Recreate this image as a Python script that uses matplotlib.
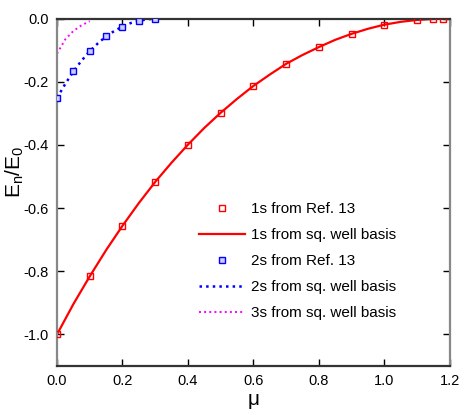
import matplotlib.pyplot as plt
import matplotlib

matplotlib.rcParams['font.family'] = ['Liberation Sans Narrow', 'Liberation Sans', 'DejaVu Sans']

# 1s, Ref. 13
mu_1s_ref = [0.0, 0.1, 0.2, 0.3, 0.4, 0.5, 0.6, 0.7, 0.8, 0.9, 1.0, 1.1, 1.15, 1.18]
e_1s_ref = [-1.0, -0.816, -0.656, -0.517, -0.399, -0.298, -0.213, -0.143, -0.09,
            -0.048, -0.019, -0.004, -0.001, 0.0]

# 1s, square well basis
mu_1s = [0.0, 0.05, 0.1, 0.15, 0.2, 0.25, 0.3, 0.35, 0.4, 0.45, 0.5, 0.55, 0.6,
         0.65, 0.7, 0.75, 0.8, 0.85, 0.9, 0.95, 1.0, 1.05, 1.1, 1.15, 1.18]
e_1s = [-1.0, -0.904, -0.816, -0.733, -0.656, -0.584, -0.517, -0.456, -0.399,
        -0.346, -0.298, -0.254, -0.213, -0.177, -0.143, -0.115, -0.09, -0.067,
        -0.048, -0.032, -0.019, -0.010, -0.004, -0.001, 0.0]

# 2s, Ref. 13
mu_2s_ref = [0.0, 0.05, 0.1, 0.15, 0.2, 0.25, 0.3]
e_2s_ref = [-0.251, -0.167, -0.103, -0.056, -0.025, -0.007, 0.0]

# 2s, square well basis
mu_2s = [0.0, 0.025, 0.05, 0.075, 0.1, 0.125, 0.15, 0.175, 0.2, 0.225, 0.25, 0.275, 0.3]
e_2s = [-0.251, -0.207, -0.167, -0.133, -0.103, -0.078, -0.056, -0.039, -0.025,
        -0.014, -0.007, -0.002, 0.0]

# 3s, square well basis
mu_3s = [0.0, 0.025, 0.05, 0.075, 0.1]
e_3s = [-0.111, -0.066, -0.039, -0.021, -0.008]

fig = plt.figure(figsize=(4.71, 4.15), dpi=100)
ax = fig.add_axes([0.121, 0.118, 0.834, 0.837])

ax.plot(mu_1s_ref, e_1s_ref, 's', ms=4.5, mec='red', mfc='none', mew=1.0,
        label='1s from Ref. 13', zorder=3)
ax.plot(mu_1s, e_1s, '-', color='red', lw=1.6, label='1s from sq. well basis')
ax.plot(mu_2s_ref, e_2s_ref, 's', ms=4.5, mec='blue', mfc='#ccccff', mew=1.0,
        label='2s from Ref. 13', zorder=3)
ax.plot(mu_2s, e_2s, ':', color='blue', lw=1.8, label='2s from sq. well basis')
ax.plot(mu_3s, e_3s, ':', color='magenta', lw=1.4, label='3s from sq. well basis')

ax.set_xlim(0, 1.2)
ax.set_ylim(-1.1, 0)
ax.set_xticks([0.0, 0.2, 0.4, 0.6, 0.8, 1.0, 1.2])
ax.set_yticks([-1.0, -0.8, -0.6, -0.4, -0.2, 0.0])
ax.xaxis.set_major_formatter(matplotlib.ticker.FormatStrFormatter('%.1f'))
ax.yaxis.set_major_formatter(matplotlib.ticker.FormatStrFormatter('%.1f'))
ax.tick_params(direction='in', top=True, right=True, length=5, width=1,
               labelsize=10.5, pad=6)

for side in ['left', 'right']:
    ax.spines[side].set_color('#888888')
    ax.spines[side].set_linewidth(1.6)
for side in ['top', 'bottom']:
    ax.spines[side].set_color('#333333')
    ax.spines[side].set_linewidth(1.6)

ax.set_xlabel('μ', fontsize=15)
ax.set_ylabel('E$_\\mathregular{n}$/E$_\\mathregular{0}$', fontsize=15)
ax.yaxis.set_label_coords(-0.08, 0.56)
ax.xaxis.set_label_coords(0.5, -0.07)

ax.legend(loc='upper left', bbox_to_anchor=(0.355, 0.48), frameon=False,
          fontsize=11, handlelength=2.95, handletextpad=0.45, labelspacing=0.78,
          borderpad=0.2, borderaxespad=0)

fig.savefig('out.png', dpi=100)
